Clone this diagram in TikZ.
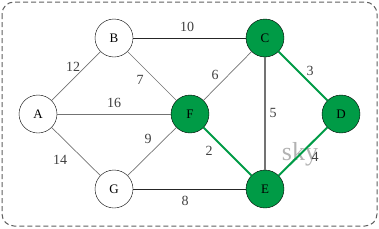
\documentclass[tikz,border=0pt]{standalone}
\usepackage{fontspec}
\setmainfont{Liberation Serif}
\definecolor{gr}{RGB}{0,155,70}
\begin{document}
\begin{tikzpicture}[x=1pt,y=-1pt,
  vtx/.style={circle,draw=black,thin,minimum size=38pt,inner sep=0pt,font=\fontsize{13}{13}\selectfont,fill=white},
  gvtx/.style={vtx,fill=gr},
  edge/.style={draw=gray!90!black,line width=0.7pt},
  dedge/.style={draw=black!85,line width=0.7pt},
  gedge/.style={draw=gr,line width=2pt},
  lbl/.style={font=\fontsize{14}{14}\selectfont,text=black!75,inner sep=0pt}]
\useasboundingbox (0,0) rectangle (379,228);
\draw[gray!75!black,dashed,dash pattern=on 5pt off 3pt,line width=1pt,rounded corners=12pt] (2,2) rectangle (377,226);
\node[font=\fontsize{26}{26}\selectfont,text=black!30] (w) at (300,154) {sky};
\node[vtx] (B) at (114,38) {B};
\node[gvtx] (C) at (265,38) {C};
\node[vtx] (A) at (38,114) {A};
\node[gvtx] (F) at (190,114) {F};
\node[gvtx] (D) at (341,114) {D};
\node[vtx] (G) at (114,189) {G};
\node[gvtx] (E) at (265,189) {E};
\draw[dedge] (B) -- (C);
\draw[edge] (A) -- (B);
\draw[edge] (B) -- (F);
\draw[edge] (A) -- (F);
\draw[edge] (A) -- (G);
\draw[edge] (F) -- (C);
\draw[edge,line width=1.2pt] (C) -- (E);
\draw[edge] (G) -- (F);
\draw[dedge] (G) -- (E);
\draw[gedge] (C) -- (D);
\draw[gedge] (F) -- (E);
\draw[gedge] (D) -- (E);
\node[lbl] (l10) at (187,27) {10};
\node[lbl] (l12) at (73,67) {12};
\node[lbl] (l7) at (140,80) {7};
\node[lbl] (l16) at (114,103) {16};
\node[lbl] (l6) at (215,75) {6};
\node[lbl] (l5) at (273,113) {5};
\node[lbl] (l3) at (310,71) {3};
\node[lbl] (l9) at (148,139) {9};
\node[lbl] (l14) at (60,160) {14};
\node[lbl] (l2) at (209,151) {2};
\node[lbl] (l4) at (315,157) {4};
\node[lbl] (l8) at (185,201) {8};
\end{tikzpicture}
\end{document}
